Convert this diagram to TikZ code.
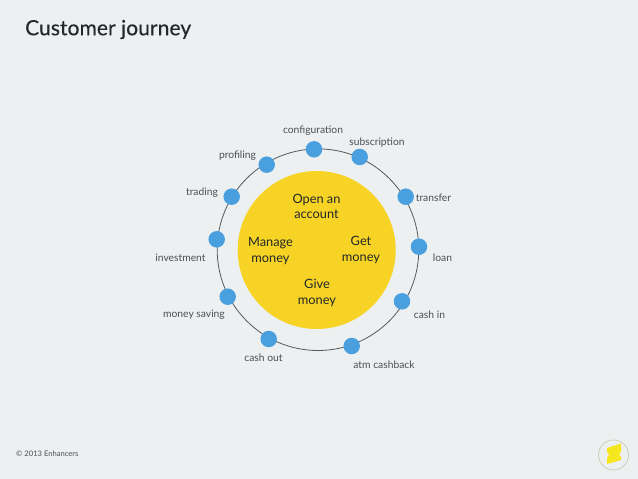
\documentclass[tikz,border=0pt]{standalone}
\usepackage{fontspec}
\setmainfont{Lato}
\newfontfamily\titlefont[FakeBold=0.35,LetterSpace=0.3]{Lato}
\definecolor{bgc}{HTML}{ECF0F1}
\definecolor{dotc}{HTML}{4A9FDF}
\definecolor{sun}{HTML}{F7D325}
\definecolor{ringc}{HTML}{55595C}
\definecolor{labc}{HTML}{4A4F52}
\definecolor{darkc}{HTML}{22282B}
\definecolor{logoc}{HTML}{CFCDB8}
\definecolor{logoy}{HTML}{F5E61E}
\tikzset{
  stop/.style={circle,fill=dotc,minimum size=16.5pt,inner sep=0pt},
  lab/.style={text=labc,font=\fontsize{10.3}{12}\selectfont,inner sep=0pt},
  phase/.style={text=darkc,font=\fontsize{12.8}{15.5}\selectfont,align=center,inner sep=0pt},
}
\begin{document}
\begin{tikzpicture}[x=1pt,y=-1pt]
\useasboundingbox (0,0) rectangle (638,479);
\fill[bgc] (0,0) rectangle (638,479);
\node[text=darkc,font=\fontsize{21}{24}\selectfont\titlefont,anchor=west,inner sep=0pt] (title) at (25,29.5) {Customer journey};
\node[circle,fill=sun,minimum size=158pt,inner sep=0pt] (core) at (316.7,250) {};
\draw[ringc,line width=0.8pt] (318,249.7) circle[radius=100.8];
\foreach \n/\x/\y in {a/314/149.3,b/359.7/157,c/405.7/196.7,d/419/246.7,e/402/301.3,f/351.7/346,g/268.7/339,h/227.7/296.7,i/216.7/239.3,j/231.7/196.7,k/266.7/164.7}
  \node[stop] (\n) at (\x,\y) {};
\node[lab] (la) at (313,130.5) {configuration};
\node[lab] (lb) at (377,142.5) {subscription};
\node[lab] (lc) at (433.5,197.5) {transfer};
\node[lab] (ld) at (442.5,258) {loan};
\node[lab] (le) at (429.5,315) {cash in};
\node[lab] (lf) at (384,365) {atm cashback};
\node[lab] (lg) at (263.5,358) {cash out};
\node[lab] (lh) at (194,315) {money saving};
\node[lab] (li) at (180.5,258) {investment};
\node[lab] (lj) at (202,192.5) {trading};
\node[lab] (lk) at (237.5,155.5) {profiling};
\node[phase] (p1) at (316.5,206.5) {Open an\\account};
\node[phase] (p2) at (270.5,251) {Manage\\money};
\node[phase] (p3) at (361,250) {Get\\money};
\node[phase] (p4) at (317,293) {Give\\money};
\node[text=labc,font=\fontsize{7.6}{10}\selectfont,anchor=west,inner sep=0pt] (copy) at (16,453.5) {© 2013 Enhancers};
\draw[logoc,line width=0.8pt] (613.5,455) circle[radius=15];
\fill[logoy] (607,448) -- (621,443.5) -- (621,452) -- (619,454) -- (621,457) -- (621,460) -- (607,464) -- (607,458) -- (609,455) -- (607,452) -- cycle;
\end{tikzpicture}
\end{document}
